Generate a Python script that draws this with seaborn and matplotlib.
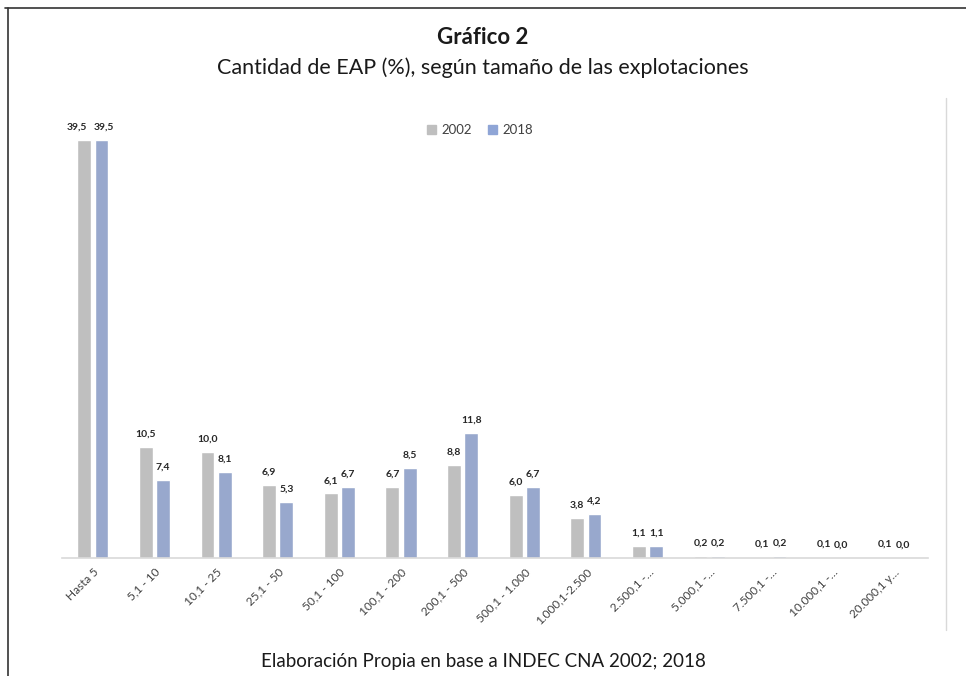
import pandas as pd
import matplotlib.pyplot as plt
import seaborn as sns
from matplotlib.lines import Line2D

categorias = ['Hasta 5', '5,1 - 10', '10,1 - 25', '25,1 - 50', '50,1 - 100', '100,1 - 200',
              '200,1 - 500', '500,1 - 1.000', '1.000,1-2.500', '2.500,1 -…', '5.000,1 -…',
              '7.500,1 -…', '10.000,1 -…', '20.000,1 y…']
valores_2002 = [39.5, 10.5, 10.0, 6.9, 6.1, 6.7, 8.8, 6.0, 3.8, 1.1, 0.2, 0.1, 0.1, 0.1]
valores_2018 = [39.5, 7.4, 8.1, 5.3, 6.7, 8.5, 11.8, 6.7, 4.2, 1.1, 0.2, 0.2, 0.0, 0.0]
anios = ['2002', '2018']
colores = ['#BFBFBF', '#8FA5D6']

df = pd.DataFrame({
    'tamano': categorias * 2,
    'valor': valores_2002 + valores_2018,
    'anio': [anios[0]] * len(categorias) + [anios[1]] * len(categorias),
})

sns.set_style('white')
plt.rcParams['font.family'] = ['Lato', 'DejaVu Sans']

fig = plt.figure(figsize=(9.66, 6.76), dpi=100)
ax = fig.add_axes([62 / 966, 118 / 676, 866 / 966, 476 / 676])

sns.barplot(data=df, x='tamano', y='valor', hue='anio', palette=colores,
            width=0.56, gap=0.2, ax=ax, legend=False)
ax.set_ylim(0, 45)
ax.set_xlim(-0.5, 13.55)

etiquetas = []
for cont, vals in zip(ax.containers, [valores_2002, valores_2018]):
    etiquetas.append(ax.bar_label(cont, labels=[f'{v:.1f}'.replace('.', ',') for v in vals],
                                  padding=6, fontsize=7.5, fontweight='bold', color='#262626'))
# separar las etiquetas del primer grupo, como en Excel
etiquetas[0][0].xyann = (-5, 6)
etiquetas[1][0].xyann = (2, 6)

ax.set_xlabel('')
ax.set_ylabel('')
ax.set_yticks([])
plt.setp(ax.get_xticklabels(), rotation=45, ha='right', rotation_mode='anchor',
         fontsize=8.5, color='#404040')
ax.tick_params(axis='x', length=0, pad=6)
for s in ['top', 'right', 'left']:
    ax.spines[s].set_visible(False)
ax.spines['bottom'].set_color('#D9D9D9')
ax.spines['bottom'].set_linewidth(1.2)

handles = [plt.Rectangle((0, 0), 1, 1, color=c) for c in colores]
fig.legend(handles, anios, loc='center', bbox_to_anchor=(480 / 966, 1 - 130 / 676),
           ncol=2, frameon=False, fontsize=9.5, handlelength=0.7, handleheight=0.7,
           columnspacing=1.2, handletextpad=0.4, labelcolor='#404040')

fig.text(0.5, 1 - 38 / 676, 'Gráfico 2', ha='center', va='center',
         fontsize=16, fontweight='bold', color='#1a1a1a')
fig.text(0.5, 1 - 68 / 676, 'Cantidad de EAP (%), según tamaño de las explotaciones',
         ha='center', va='center', fontsize=15.5, color='#1a1a1a')
fig.text(0.5, 1 - 662 / 676, 'Elaboración Propia en base a INDEC CNA 2002; 2018',
         ha='center', va='center', fontsize=13.5, color='#1a1a1a')

# marco
fig.add_artist(Line2D([5 / 966, 1], [1 - 8 / 676, 1 - 8 / 676], color='#333333', lw=1.2))
fig.add_artist(Line2D([8 / 966, 8 / 966], [0, 1 - 8 / 676], color='#333333', lw=1.2))
fig.add_artist(Line2D([946 / 966, 946 / 966], [1 - 630 / 676, 1 - 98 / 676], color='#D9D9D9', lw=1))

fig.savefig('out.png', dpi=100)
